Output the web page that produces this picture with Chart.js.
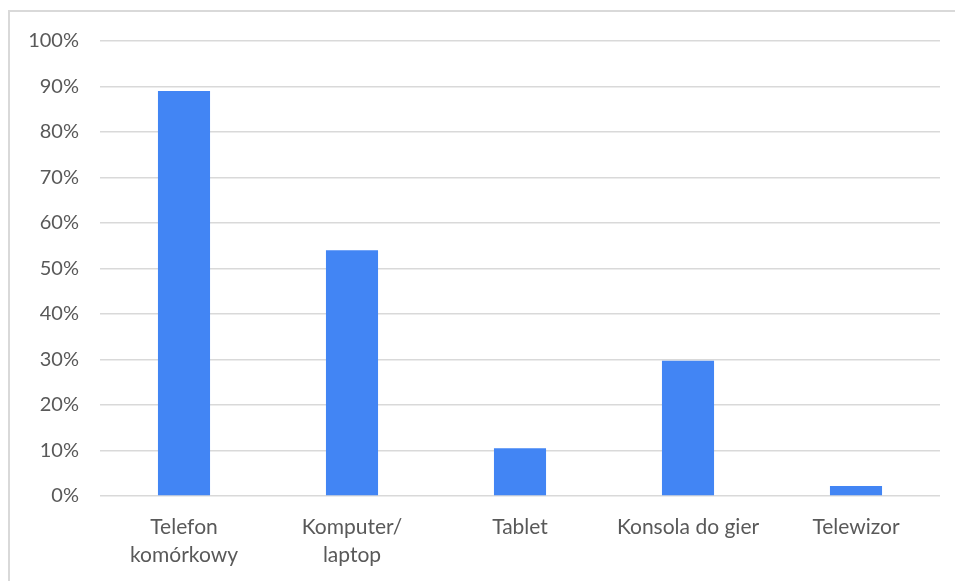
<!DOCTYPE html>
<html>
<head>
<meta charset="utf-8">
<script src="https://cdn.jsdelivr.net/npm/chart.js@4"></script>
<style>
  html, body { margin: 0; padding: 0; background: #fff; overflow: hidden; }
  .frame {
    position: absolute; left: 8px; top: 10px;
    width: 1000px; height: 620px;
    border: 2px solid #d9d9d9;
  }
  #chart { position: absolute; left: 0; top: 0; }
</style>
</head>
<body>
<div class="frame"></div>
<canvas id="chart" width="955" height="581"></canvas>
<script>
// dane
const categories = [['Telefon', 'komórkowy'], ['Komputer/', 'laptop'], 'Tablet', 'Konsola do gier', 'Telewizor'];
const values = [89, 54, 10.5, 29.7, 2.2];
const yTicks = { min: 0, max: 100, step: 10 };

const textColor = '#595959';
const gridColor = '#d9d9d9';
const barColor = '#4285f4';

const ctx = document.getElementById('chart').getContext('2d');
new Chart(ctx, {
  type: 'bar',
  data: {
    labels: categories,
    datasets: [{
      data: values,
      backgroundColor: barColor,
      borderWidth: 0,
      categoryPercentage: 1,
      barPercentage: 0.31
    }]
  },
  options: {
    responsive: false,
    animation: false,
    layout: { padding: { top: 41, right: 15, left: 0, bottom: 0 } },
    plugins: {
      legend: { display: false },
      tooltip: { enabled: false }
    },
    scales: {
      y: {
        min: yTicks.min,
        max: yTicks.max,
        ticks: {
          stepSize: yTicks.step,
          color: textColor,
          padding: 21,
          font: { family: 'Lato', size: 20 },
          callback: v => v + '%'
        },
        grid: { color: gridColor, lineWidth: 1.5, drawTicks: false },
        border: { display: false },
        afterFit: s => { s.width = 100; }
      },
      x: {
        ticks: {
          color: textColor,
          padding: 18,
          maxRotation: 0,
          autoSkip: false,
          font: { family: 'Lato', size: 21, lineHeight: 1.3 }
        },
        grid: { display: false, drawTicks: false },
        border: { display: false },
        afterFit: s => { s.height = 85; }
      }
    }
  }
});
</script>
</body>
</html>
